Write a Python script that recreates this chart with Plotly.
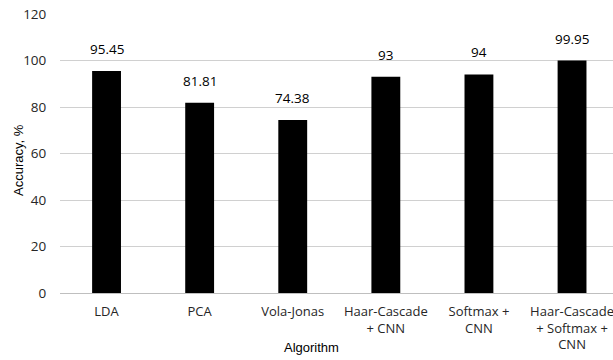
import plotly.graph_objects as go

categories = ["LDA", "PCA", "Vola-Jonas", "Haar-Cascade<br>+ CNN", "Softmax +<br>CNN", "Haar-Cascade<br>+ Softmax +<br>CNN"]
accuracy = [95.45, 81.81, 74.38, 93, 94, 99.95]
value_labels = ["95.45", "81.81", "74.38", "93", "94", "99.95"]
y_ticks = [0, 20, 40, 60, 80, 100, 120]

label_font = dict(family="Open Sans, Noto Sans, sans-serif", size=13, color="#262626")

fig = go.Figure()
fig.add_trace(go.Bar(
    x=categories, y=accuracy,
    marker=dict(color="black", line=dict(width=0)),
    width=0.31,
    hoverinfo="skip",
))

for c, v, t in zip(categories, accuracy, value_labels):
    fig.add_annotation(x=c, y=v, text=t, showarrow=False, yanchor="bottom",
                       yshift=11, font=dict(family="Open Sans, sans-serif", size=13.5, color="black"))

plot_l, plot_t, plot_b = 60, 14, 67
plot_w = 613 - plot_l
plot_h = 360 - plot_t - plot_b

fig.add_annotation(x=(311 - plot_l) / plot_w, y=(293 - 347) / plot_h, xref="paper", yref="paper",
                   text="Algorithm", showarrow=False, yanchor="middle",
                   font=dict(family="Liberation Sans, Arial, sans-serif", size=13, color="black"))
fig.add_annotation(x=(18 - plot_l) / plot_w, y=(293 - 160) / plot_h, xref="paper", yref="paper",
                   text="Accuracy, %", showarrow=False, textangle=-90, xanchor="center", yanchor="middle",
                   font=dict(family="Liberation Sans, Arial, sans-serif", size=13, color="black"))

fig.update_layout(
    width=613, height=360,
    margin=dict(l=plot_l, r=0, t=plot_t, b=plot_b, autoexpand=False),
    plot_bgcolor="white", paper_bgcolor="white",
    showlegend=False,
    xaxis=dict(
        type="category", range=[-0.5, 5.44], automargin=False,
        tickfont=label_font, showgrid=False, showline=True, linecolor="#bfbfbf", linewidth=1,
        ticks="outside", ticklen=6, tickcolor="white",
    ),
    yaxis=dict(
        range=[0, 120], tickvals=y_ticks, tickfont=dict(label_font, size=13.5), automargin=False,
        showgrid=True, gridcolor="#d0d0d0", gridwidth=1,
        zeroline=True, zerolinecolor="#bfbfbf", zerolinewidth=1,
        ticks="outside", ticklen=10, tickcolor="white",
    ),
)

fig.write_html("out.html", config={"displayModeBar": False},
               post_script="document.body.style.margin='0';document.body.style.overflow='hidden';")
